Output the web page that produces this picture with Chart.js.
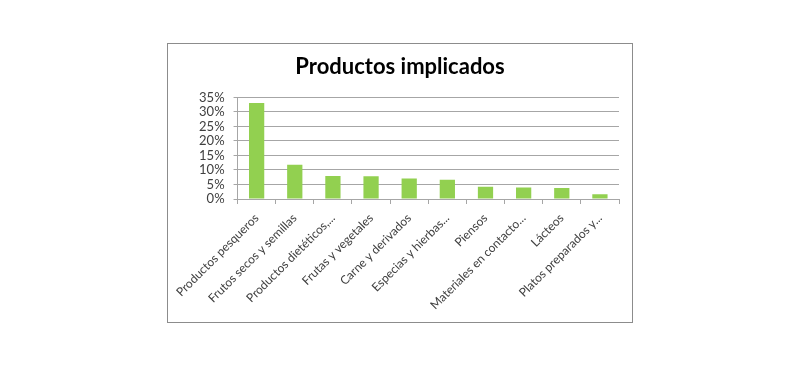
<!DOCTYPE html>
<html>
<head>
<meta charset="utf-8">
<script src="https://cdn.jsdelivr.net/npm/chart.js@4"></script>
<style>
  body { margin: 0; background: #fff; }
  .box {
    position: absolute; left: 167px; top: 43px;
    width: 466px; height: 280px;
    border: 1px solid #8c8c8c; box-sizing: border-box;
  }
</style>
</head>
<body>
<div class="box"><canvas id="chart" width="464" height="278"></canvas></div>
<script>
const categories = [
  'Productos pesqueros', 'Frutos secos y semillas', 'Productos dietéticos,...',
  'Frutas y vegetales', 'Carne y derivados', 'Especias y hierbas...',
  'Piensos', 'Materiales en contacto...', 'Lácteos', 'Platos preparados y...'
];
const shares = [33.1, 11.8, 7.9, 7.8, 7.1, 6.6, 4.2, 4.0, 3.8, 1.6];
const yTicks = [0, 5, 10, 15, 20, 25, 30, 35];

const gridGrey = '#a6a6a6';
const textDark = '#404040';

new Chart(document.getElementById('chart'), {
  type: 'bar',
  data: {
    labels: categories,
    datasets: [{
      data: shares,
      backgroundColor: '#92d050',
      categoryPercentage: 1,
      barPercentage: 0.4
    }]
  },
  options: {
    responsive: false,
    animation: false,
    layout: { padding: { top: 10, right: 13, bottom: 0, left: 13 } },
    plugins: {
      legend: { display: false },
      tooltip: { enabled: false },
      title: {
        display: true,
        text: 'Productos implicados',
        color: '#000',
        font: { family: 'Lato', size: 22, weight: 'bold' },
        padding: { top: 0, bottom: 17 }
      }
    },
    scales: {
      x: {
        afterFit: (s) => { s.height = 123; },
        grid: { drawOnChartArea: false, color: gridGrey, tickLength: 5 },
        border: { color: gridGrey },
        ticks: {
          minRotation: 45, maxRotation: 45, autoSkip: false,
          color: textDark, padding: 7,
          font: { family: 'Lato', size: 12 }
        }
      },
      y: {
        min: 0, max: 35,
        afterFit: (s) => { s.width = 55; },
        afterBuildTicks: (s) => { s.ticks = yTicks.map(v => ({ value: v })); },
        grid: { color: gridGrey, tickLength: 4 },
        border: { color: gridGrey },
        ticks: {
          autoSkip: false,
          color: textDark, padding: 9,
          font: { family: 'Lato', size: 13 },
          callback: (v) => v + '%'
        }
      }
    }
  }
});
</script>
</body>
</html>
